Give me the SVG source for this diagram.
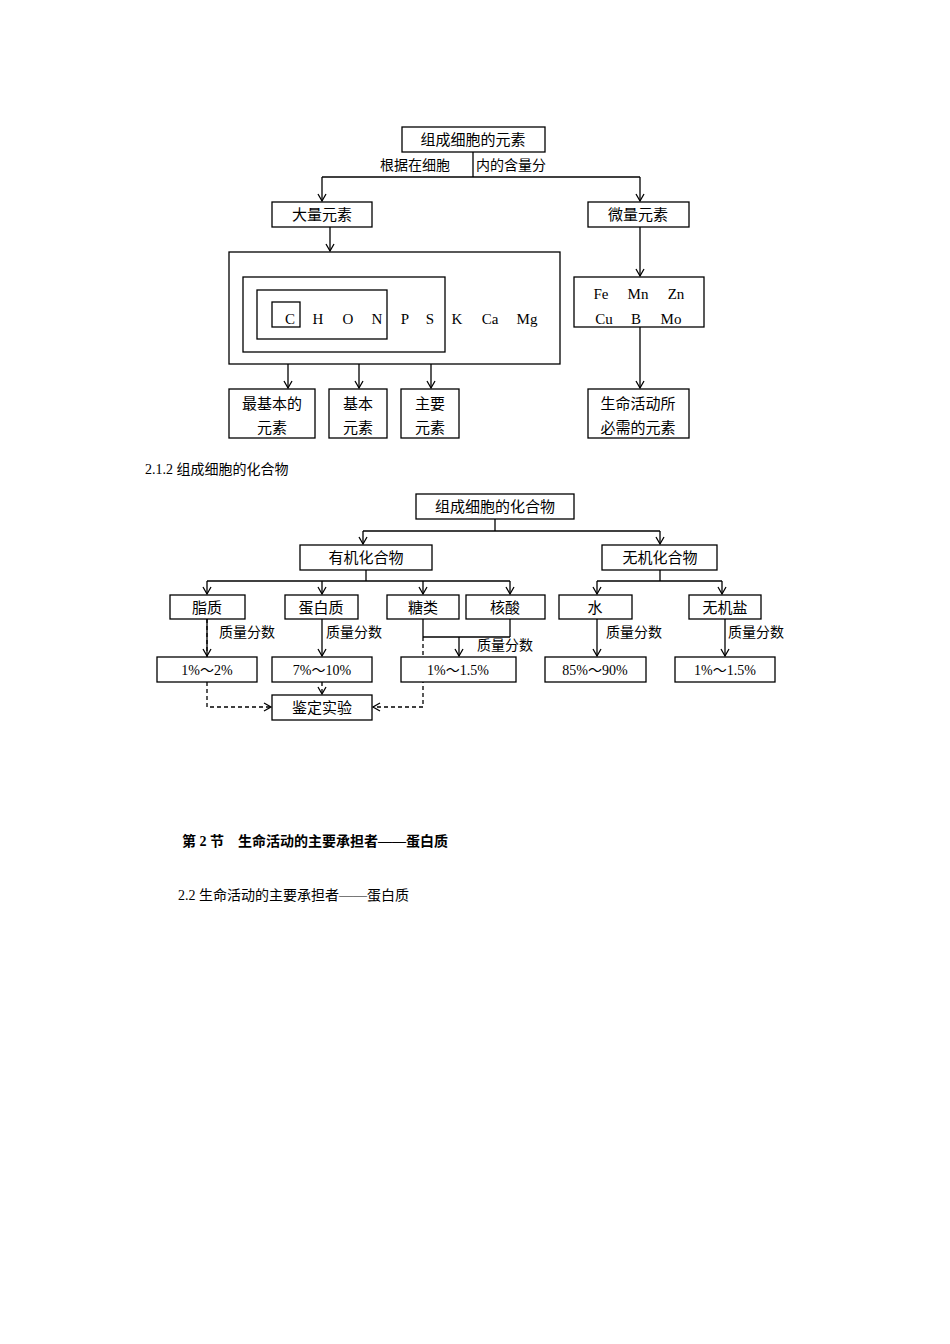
<svg xmlns="http://www.w3.org/2000/svg" width="950" height="1344" viewBox="0 0 950 1344">
<style>
rect{fill:#fff;stroke:#000;stroke-width:1.3}
line,path{stroke:#000;stroke-width:1.3;fill:none}
.d{stroke-dasharray:4 3}
text{font-family:"Liberation Serif","Noto Sans CJK SC",serif;font-size:15px;fill:#000}
.c{text-anchor:middle}
.s{font-size:14px}
</style>
<defs><marker id="a" markerWidth="10" markerHeight="10" refX="8" refY="5" orient="auto" markerUnits="userSpaceOnUse"><path d="M1,1 L8,5 L1,9" style="stroke:#000;stroke-width:1.3;fill:none"/></marker></defs>
<rect width="950" height="1344" style="stroke:none"/>
<g id="connectors">
<line x1="473" y1="152" x2="473" y2="177"/>
<line x1="322" y1="177" x2="640" y2="177"/>
<line x1="322" y1="177" x2="322" y2="201" marker-end="url(#a)"/>
<line x1="640" y1="177" x2="640" y2="201" marker-end="url(#a)"/>
<line x1="330" y1="227" x2="330" y2="251" marker-end="url(#a)"/>
<line x1="288" y1="315" x2="288" y2="388" marker-end="url(#a)"/>
<line x1="359" y1="339" x2="359" y2="388" marker-end="url(#a)"/>
<line x1="431" y1="352" x2="431" y2="388" marker-end="url(#a)"/>
<line x1="640" y1="227" x2="640" y2="276" marker-end="url(#a)"/>
<line x1="640" y1="327" x2="640" y2="388" marker-end="url(#a)"/>
<line x1="495" y1="519" x2="495" y2="531"/>
<line x1="363" y1="531" x2="660" y2="531"/>
<line x1="363" y1="531" x2="363" y2="544" marker-end="url(#a)"/>
<line x1="660" y1="531" x2="660" y2="544" marker-end="url(#a)"/>
<line x1="366" y1="570" x2="366" y2="581"/>
<line x1="207" y1="581" x2="510" y2="581"/>
<line x1="207" y1="581" x2="207" y2="594" marker-end="url(#a)"/>
<line x1="322" y1="581" x2="322" y2="594" marker-end="url(#a)"/>
<line x1="423" y1="581" x2="423" y2="594" marker-end="url(#a)"/>
<line x1="510" y1="581" x2="510" y2="594" marker-end="url(#a)"/>
<line x1="660" y1="570" x2="660" y2="581"/>
<line x1="597" y1="581" x2="722" y2="581"/>
<line x1="597" y1="581" x2="597" y2="594" marker-end="url(#a)"/>
<line x1="722" y1="581" x2="722" y2="594" marker-end="url(#a)"/>
<line x1="207" y1="619" x2="207" y2="656" marker-end="url(#a)"/>
<line x1="322" y1="619" x2="322" y2="656" marker-end="url(#a)"/>
<line x1="423" y1="619" x2="423" y2="637"/>
<line x1="510" y1="619" x2="510" y2="637"/>
<line x1="423" y1="637" x2="510" y2="637"/>
<line x1="459" y1="637" x2="459" y2="656" marker-end="url(#a)"/>
<line x1="597" y1="619" x2="597" y2="656" marker-end="url(#a)"/>
<line x1="725" y1="619" x2="725" y2="656" marker-end="url(#a)"/>
<path class="d" d="M207,619 V707 H271" marker-end="url(#a)"/>
<path class="d" d="M322,682 V694" marker-end="url(#a)"/>
<path class="d" d="M423,637 V707 H373" marker-end="url(#a)"/>
</g>
<g id="n1"><rect x="402" y="127" width="143" height="25"/><text class="c" x="473" y="145">组成细胞的元素</text></g>
<text class="s" x="380" y="170">根据在细胞</text><text class="s" x="476" y="170">内的含量分</text>
<g id="n2"><rect x="272" y="202" width="100" height="25"/><text class="c" x="322" y="220">大量元素</text></g>
<g id="n3"><rect x="588" y="202" width="101" height="25"/><text class="c" x="638" y="220">微量元素</text></g>
<g id="n4"><rect x="229" y="252" width="331" height="112"/><rect x="243" y="277" width="202" height="75"/><rect x="257" y="290" width="130" height="49"/><rect x="272" y="302" width="28" height="25"/>
<text class="c" x="290" y="324">C</text><text class="c" x="318" y="324">H</text><text class="c" x="348" y="324">O</text><text class="c" x="377" y="324">N</text><text class="c" x="405" y="324">P</text><text class="c" x="430" y="324">S</text><text class="c" x="457" y="324">K</text><text class="c" x="490" y="324">Ca</text><text class="c" x="527" y="324">Mg</text></g>
<g id="n5"><rect x="574" y="277" width="130" height="50"/><text class="c" x="601" y="299">Fe</text><text class="c" x="638" y="299">Mn</text><text class="c" x="676" y="299">Zn</text><text class="c" x="604" y="324">Cu</text><text class="c" x="636" y="324">B</text><text class="c" x="671" y="324">Mo</text></g>
<g id="n6"><rect x="229" y="389" width="86" height="49"/><text class="c" x="272" y="409">最基本的</text><text class="c" x="272" y="433">元素</text></g>
<g id="n7"><rect x="329" y="389" width="58" height="49"/><text class="c" x="358" y="409">基本</text><text class="c" x="358" y="433">元素</text></g>
<g id="n8"><rect x="401" y="389" width="58" height="49"/><text class="c" x="430" y="409">主要</text><text class="c" x="430" y="433">元素</text></g>
<g id="n9"><rect x="588" y="389" width="101" height="49"/><text class="c" x="638" y="409">生命活动所</text><text class="c" x="638" y="433">必需的元素</text></g>
<text class="s" x="145" y="474">2.1.2 组成细胞的化合物</text>
<g id="m1"><rect x="416" y="494" width="158" height="25"/><text class="c" x="495" y="512">组成细胞的化合物</text></g>
<g id="m2"><rect x="300" y="545" width="132" height="25"/><text class="c" x="366" y="563">有机化合物</text></g>
<g id="m3"><rect x="602" y="545" width="115" height="25"/><text class="c" x="660" y="563">无机化合物</text></g>
<g id="m4"><rect x="170" y="595" width="75" height="24"/><text class="c" x="207" y="613">脂质</text></g>
<g id="m5"><rect x="285" y="595" width="73" height="24"/><text class="c" x="321" y="613">蛋白质</text></g>
<g id="m6"><rect x="387" y="595" width="72" height="24"/><text class="c" x="423" y="613">糖类</text></g>
<g id="m7"><rect x="466" y="595" width="79" height="24"/><text class="c" x="505" y="613">核酸</text></g>
<g id="m8"><rect x="559" y="595" width="73" height="24"/><text class="c" x="595" y="613">水</text></g>
<g id="m9"><rect x="689" y="595" width="72" height="24"/><text class="c" x="725" y="613">无机盐</text></g>
<text class="s" x="219" y="637">质量分数</text><text class="s" x="326" y="637">质量分数</text><text class="s" x="477" y="650">质量分数</text><text class="s" x="606" y="637">质量分数</text><text class="s" x="728" y="637">质量分数</text>
<g id="p1"><rect x="157" y="657" width="100" height="25"/><text class="c s" x="207" y="675">1%～2%</text></g>
<g id="p2"><rect x="272" y="657" width="100" height="25"/><text class="c s" x="322" y="675">7%～10%</text></g>
<g id="p3"><rect x="401" y="657" width="115" height="25"/><text class="c s" x="458" y="675">1%～1.5%</text></g>
<g id="p4"><rect x="545" y="657" width="101" height="25"/><text class="c s" x="595" y="675">85%～90%</text></g>
<g id="p5"><rect x="675" y="657" width="100" height="25"/><text class="c s" x="725" y="675">1%～1.5%</text></g>
<g id="p6"><rect x="272" y="695" width="100" height="25"/><text class="c" x="322" y="713">鉴定实验</text></g>
<text class="s" x="182" y="846" style="font-weight:bold">第 2 节　生命活动的主要承担者——蛋白质</text>
<text class="s" x="178" y="900">2.2 生命活动的主要承担者——蛋白质</text>
</svg>
